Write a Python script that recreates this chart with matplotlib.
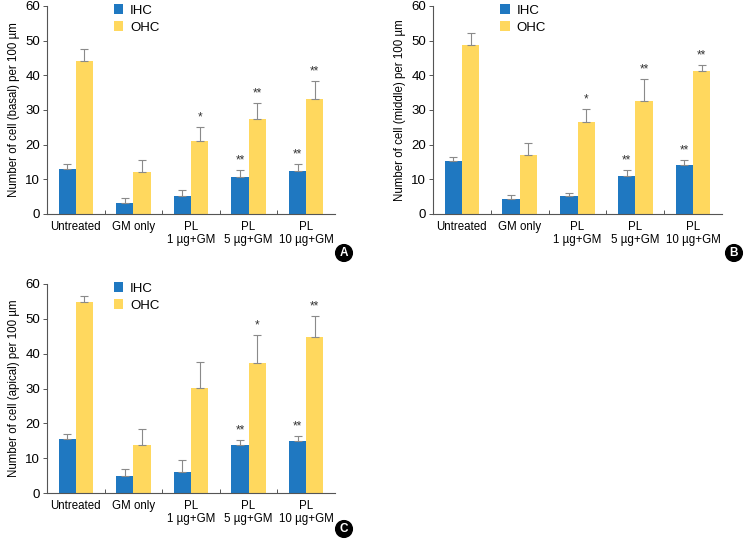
import numpy as np
import matplotlib
matplotlib.use('Agg')
import matplotlib.pyplot as plt

plt.rcParams['font.family'] = ['Liberation Sans', 'DejaVu Sans']

groups = ['Untreated', 'GM only', 'PL\n1 µg+GM', 'PL\n5 µg+GM', 'PL\n10 µg+GM']
regions = ['basal', 'middle', 'apical']
panel_tags = ['A', 'B', 'C']

# means and upper error values
ihc = {
    'basal': [13.0, 3.3, 5.2, 10.8, 12.5],
    'middle': [15.2, 4.3, 5.2, 10.9, 14.0],
    'apical': [15.6, 4.8, 6.1, 13.7, 14.9],
}
ihc_err = {
    'basal': [1.3, 1.2, 1.7, 1.8, 2.0],
    'middle': [1.2, 1.3, 1.0, 1.8, 1.7],
    'apical': [1.2, 2.1, 3.4, 1.4, 1.6],
}
ohc = {
    'basal': [44.0, 12.2, 21.2, 27.5, 33.3],
    'middle': [48.7, 17.0, 26.4, 32.7, 41.2],
    'apical': [54.9, 13.8, 30.2, 37.4, 44.9],
}
ohc_err = {
    'basal': [3.7, 3.3, 3.9, 4.5, 5.2],
    'middle': [3.6, 3.5, 3.9, 6.2, 1.8],
    'apical': [1.7, 4.7, 7.5, 8.0, 5.9],
}
ihc_sig = {
    'basal': ['', '', '', '**', '**'],
    'middle': ['', '', '', '**', '**'],
    'apical': ['', '', '', '**', '**'],
}
ohc_sig = {
    'basal': ['', '', '*', '**', '**'],
    'middle': ['', '', '*', '**', '**'],
    'apical': ['', '', '', '*', '**'],
}

blue = '#1f78c1'
yellow = '#ffd85e'
W, H = 747, 539

fig = plt.figure(figsize=(W / 100, H / 100), dpi=100)

# axes boxes in pixels: left, top(y of 60), right, bottom(y of 0)
boxes = [(47, 6, 335, 214), (433, 6, 722, 214), (47, 284, 335, 493)]
tag_pos = [(344, 253), (734, 253), (344, 529)]

x = np.arange(len(groups))
bw = 0.3

for reg, tag, (l, t, r, b), (tx, ty) in zip(regions, panel_tags, boxes, tag_pos):
    ax = fig.add_axes([l / W, 1 - b / H, (r - l) / W, (b - t) / H])
    ax.bar(x - bw / 2, ihc[reg], bw, color=blue, label='IHC',
           yerr=[np.zeros(5), ihc_err[reg]], capsize=2.8,
           error_kw=dict(ecolor='#8a8a8a', elinewidth=0.8, capthick=0.8))
    ax.bar(x + bw / 2, ohc[reg], bw, color=yellow, label='OHC',
           yerr=[np.zeros(5), ohc_err[reg]], capsize=2.8,
           error_kw=dict(ecolor='#8a8a8a', elinewidth=0.8, capthick=0.8))
    for i in range(5):
        if ihc_sig[reg][i]:
            ax.text(x[i] - bw / 2, ihc[reg][i] + ihc_err[reg][i] + 1.0, ihc_sig[reg][i],
                    ha='center', va='bottom', fontsize=8.5, color='#333333')
        if ohc_sig[reg][i]:
            ax.text(x[i] + bw / 2, ohc[reg][i] + ohc_err[reg][i] + 1.0, ohc_sig[reg][i],
                    ha='center', va='bottom', fontsize=8.5, color='#333333')

    ax.set_xlim(-0.5, 4.5)
    ax.set_ylim(0, 60)
    ax.set_yticks(range(0, 61, 10))
    ax.set_xticks(np.arange(0.5, 4.5, 1), minor=False)
    ax.set_xticklabels([])
    ax.tick_params(axis='x', direction='in', length=3, width=0.7, color='#555555')
    ax.set_xticks(x, minor=True)
    ax.set_xticklabels(groups, minor=True, fontsize=8.3, linespacing=1.15)
    ax.tick_params(axis='x', which='minor', length=0, pad=5)
    ax.tick_params(axis='y', direction='out', length=3, width=0.7, color='#555555',
                   labelsize=9.5, pad=2)
    for s in ['top', 'right']:
        ax.spines[s].set_visible(False)
    for s in ['left', 'bottom']:
        ax.spines[s].set_linewidth(0.8)
        ax.spines[s].set_color('#555555')
    ax.set_ylabel('Number of cell (%s) per 100 µm' % reg, fontsize=8.3, labelpad=4)
    ax.legend(loc='upper left', bbox_to_anchor=(0.19, 1.065), frameon=False,
              fontsize=9.5, handlelength=0.75, handleheight=0.75, handletextpad=0.5,
              labelspacing=0.35)

    fig.text(tx / W, 1 - ty / H, tag, ha='center', va='center', color='white',
             fontsize=8.5, weight='bold',
             bbox=dict(boxstyle='circle,pad=0.2', fc='black', ec='black'))

fig.savefig('out.png', dpi=100)
